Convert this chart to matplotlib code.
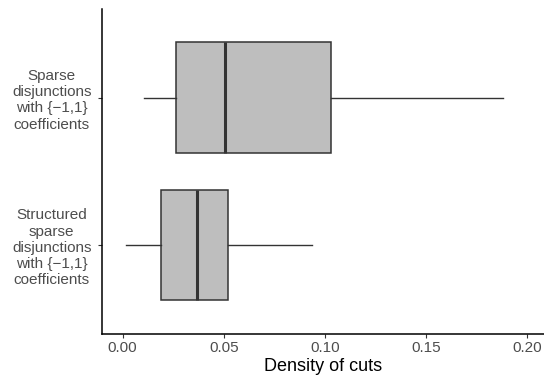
import matplotlib
matplotlib.use("Agg")
import matplotlib.pyplot as plt

categories = ["Sparse\ndisjunctions\nwith {\u22121,1}\ncoefficients",
              "Structured\nsparse\ndisjunctions\nwith {\u22121,1}\ncoefficients"]
whislo = [0.0104, 0.0017]
q1 = [0.0263, 0.0191]
med = [0.0505, 0.0370]
q3 = [0.1030, 0.0523]
whishi = [0.1880, 0.0935]
xticks = [0.00, 0.05, 0.10, 0.15, 0.20]
xticklabels = ["0.00", "0.05", "0.10", "0.15", "0.20"]

plt.rcParams['font.family'] = ['Liberation Sans', 'DejaVu Sans']

fig = plt.figure(figsize=(5.44, 3.79), dpi=100)
ax = fig.add_axes([101.5/544, 1-333.6/379, 1-101.5/544, (333.6-9.3)/379])

stats = []
for i in range(len(categories)):
    stats.append(dict(whislo=whislo[i], q1=q1[i], med=med[i], q3=q3[i],
                      whishi=whishi[i], fliers=[]))
positions = [2, 1]
ax.bxp(stats, positions=positions, vert=False, widths=0.75, patch_artist=True,
       showcaps=False, showfliers=False,
       boxprops=dict(facecolor="#BEBEBE", edgecolor="#333333", linewidth=1.1),
       medianprops=dict(color="#333333", linewidth=2.2),
       whiskerprops=dict(color="#333333", linewidth=1.0))

ax.set_ylim(0.4, 2.6)
ax.set_xlim(-0.0104, 0.2083)
ax.set_yticks(positions)
ax.set_yticklabels(categories, ha="center", multialignment="center",
                   fontsize=11, color="#4D4D4D", linespacing=1.2)
ax.tick_params(axis="y", pad=32.8)
ax.set_xticks(xticks)
ax.set_xticklabels(xticklabels, fontsize=11, color="#4D4D4D")
ax.tick_params(axis="both", length=3, width=0.8, color="#333333")
ax.tick_params(axis="x", pad=2.5)
ax.set_xlabel("Density of cuts", fontsize=13, color="black", labelpad=2)
for s in ["top", "right"]:
    ax.spines[s].set_visible(False)
for s in ["left", "bottom"]:
    ax.spines[s].set_linewidth(1.1)
    ax.spines[s].set_color("black")

fig.savefig("out.png", dpi=100)
